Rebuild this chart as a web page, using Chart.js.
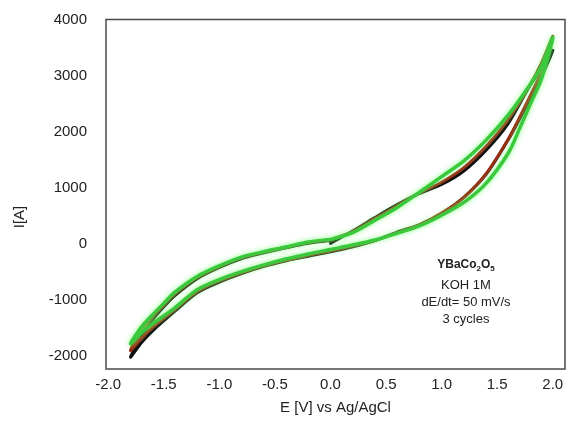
<!DOCTYPE html>
<html>
<head>
<meta charset="utf-8">
<script src="https://cdn.jsdelivr.net/npm/chart.js@4.4.0/dist/chart.umd.min.js"></script>
<style>
  body { margin: 0; background: #fff; }
  #wrap { width: 568px; height: 423px; }
</style>
</head>
<body>
<div id="wrap"><canvas id="cvChart"></canvas></div>
<script>
// Potential (V vs Ag/AgCl) for each leg of a cycle: 0 -> 2.0, 2.0 -> -1.8, -1.8 -> 0
const eUp = [0, 0.2, 0.4, 0.6, 0.8, 1.0, 1.2, 1.4, 1.6, 1.8, 1.9, 2.0];
const eDown = [1.9, 1.8, 1.7, 1.6, 1.4, 1.2, 1.0, 0.8, 0.6, 0.4, 0.2, 0, -0.2, -0.4, -0.6, -0.8, -1.0, -1.2, -1.4, -1.6, -1.7, -1.8];
const eBack = [-1.7, -1.6, -1.5, -1.4, -1.2, -1.0, -0.8, -0.6, -0.4, -0.2, 0];

// Current (A), cycle 1 (black)
const c1Up = [10, 230, 470, 700, 900, 1060, 1300, 1670, 2150, 2840, 3120, 3450];
const c1Down = [2990, 2600, 2220, 1860, 1240, 830, 540, 340, 210, 60, -50, -140, -220, -300, -400, -530, -680, -870, -1200, -1550, -1760, -2020];
const c1Back = [-1650, -1350, -1120, -920, -620, -420, -260, -160, -70, 10, 60];

// cycle 2 (red)
const c2Up = [70, 220, 450, 680, 910, 1100, 1360, 1740, 2220, 2850, 3230, 3700];
const c2Down = [3080, 2650, 2250, 1870, 1250, 830, 550, 340, 200, 60, -40, -125, -205, -290, -390, -515, -660, -850, -1170, -1490, -1680, -1900];
const c2Back = [-1560, -1300, -1090, -890, -600, -405, -248, -150, -60, 25, 70];

// cycle 3 (green)
const c3Up = [80, 200, 420, 650, 920, 1200, 1480, 1850, 2300, 2850, 3170, 3680];
const c3Down = [2950, 2500, 2050, 1620, 1080, 740, 510, 320, 190, 70, -20, -100, -180, -270, -375, -495, -635, -815, -1140, -1420, -1580, -1780];
const c3Back = [-1480, -1260, -1060, -860, -580, -390, -235, -140, -55, 35, 80];

const xTicks = [-2.0, -1.5, -1.0, -0.5, 0.0, 0.5, 1.0, 1.5, 2.0];
const yTicks = [-2000, -1000, 0, 1000, 2000, 3000, 4000];

const noteTitle = ['YBa', 'Co', '2', 'O', '5'];
const noteLines = ['KOH 1M', 'dE/dt= 50 mV/s', '3 cycles'];

const FONT = "'Liberation Sans', Arial, sans-serif";

function cyclePoints(up, down, back) {
    const pts = [];
    eUp.forEach((e, i) => pts.push({ x: e, y: up[i] }));
    eDown.forEach((e, i) => pts.push({ x: e, y: down[i] }));
    eBack.forEach((e, i) => pts.push({ x: e, y: back[i] }));
    return pts;
}

// soft halo behind the green trace
const glowPlugin = {
    id: 'glow',
    beforeDatasetDraw(chart, args) {
        const ds = chart.data.datasets[args.index];
        if (ds.glow) {
            chart.ctx.save();
            chart.ctx.shadowColor = ds.glow;
            chart.ctx.shadowBlur = 5;
        }
    },
    afterDatasetDraw(chart, args) {
        if (chart.data.datasets[args.index].glow) chart.ctx.restore();
    }
};

// frame + annotation + y title
const framePlugin = {
    id: 'frame',
    afterDraw(chart) {
        const ctx = chart.ctx;
        const a = chart.chartArea;
        ctx.save();
        ctx.strokeStyle = '#4a4a4a';
        ctx.lineWidth = 1.5;
        ctx.strokeRect(a.left, a.top, a.right - a.left, a.bottom - a.top);

        // y axis title
        ctx.fillStyle = '#222';
        ctx.font = '15px ' + FONT;
        ctx.textAlign = 'center';
        ctx.textBaseline = 'middle';
        ctx.translate(20, 217);
        ctx.rotate(-Math.PI / 2);
        ctx.fillText('I[A]', 0, 0);
        ctx.restore();

        // annotation block
        ctx.save();
        ctx.fillStyle = '#222';
        ctx.textBaseline = 'middle';
        const cx = 466;
        let y = 265;
        const big = 'bold 12px ' + FONT;
        const sub = 'bold 8px ' + FONT;
        const parts = [
            [noteTitle[0], big, 0], [noteTitle[1], big, 0], [noteTitle[2], sub, 4],
            [noteTitle[3], big, 0], [noteTitle[4], sub, 4]
        ];
        let w = 0;
        parts.forEach(p => { ctx.font = p[1]; w += ctx.measureText(p[0]).width; });
        let x = cx - w / 2;
        ctx.textAlign = 'left';
        parts.forEach(p => {
            ctx.font = p[1];
            ctx.fillText(p[0], x, y + p[2]);
            x += ctx.measureText(p[0]).width;
        });
        ctx.font = '13px ' + FONT;
        ctx.textAlign = 'center';
        y += 20;
        noteLines.forEach(line => {
            ctx.fillText(line, cx, y);
            y += 17;
        });
        ctx.restore();
    }
};

new Chart(document.getElementById('cvChart'), {
    type: 'line',
    data: {
        datasets: [
            {
                label: 'cycle 3',
                data: cyclePoints(c3Up, c3Down, c3Back),
                borderColor: '#3cc83c',
                borderWidth: 3.5,
                glow: 'rgba(110, 255, 110, 0.9)'
            },
            {
                label: 'cycle 2',
                data: cyclePoints(c2Up, c2Down, c2Back),
                borderColor: '#9a2a12',
                borderWidth: 3
            },
            {
                label: 'cycle 1',
                data: cyclePoints(c1Up, c1Down, c1Back),
                borderColor: '#111111',
                borderWidth: 3
            }
        ]
    },
    options: {
        responsive: true,
        maintainAspectRatio: false,
        animation: false,
        layout: { padding: { top: 19.5, right: 3, left: 0, bottom: 0 } },
        elements: {
            point: { radius: 0 },
            line: { tension: 0.3, fill: false, borderCapStyle: 'round', borderJoinStyle: 'round' }
        },
        plugins: {
            legend: { display: false },
            tooltip: { enabled: false }
        },
        scales: {
            x: {
                type: 'linear',
                min: -2.02,
                max: 2.11,
                grid: { display: false, drawTicks: false },
                border: { display: false },
                afterBuildTicks: axis => { axis.ticks = xTicks.map(v => ({ value: v })); },
                afterFit: scale => {
                    scale.height = 54;
                    scale.paddingLeft = 0;
                    scale.paddingRight = 0;
                },
                ticks: {
                    padding: 7,
                    color: '#222',
                    font: { family: FONT, size: 15 },
                    callback: v => v.toFixed(1)
                },
                title: {
                    display: true,
                    text: 'E [V] vs Ag/AgCl',
                    color: '#222',
                    font: { family: FONT, size: 15 },
                    padding: { top: 0, bottom: 6 }
                }
            },
            y: {
                min: -2230,
                max: 4000,
                grid: { display: false, drawTicks: false },
                border: { display: false },
                afterBuildTicks: axis => { axis.ticks = yTicks.map(v => ({ value: v })); },
                afterFit: scale => {
                    scale.width = 106;
                    scale.paddingTop = 0;
                    scale.paddingBottom = 0;
                },
                ticks: {
                    padding: 19,
                    color: '#222',
                    font: { family: FONT, size: 15 },
                    callback: v => String(v)
                }
            }
        }
    },
    plugins: [glowPlugin, framePlugin]
});
</script>
</body>
</html>
